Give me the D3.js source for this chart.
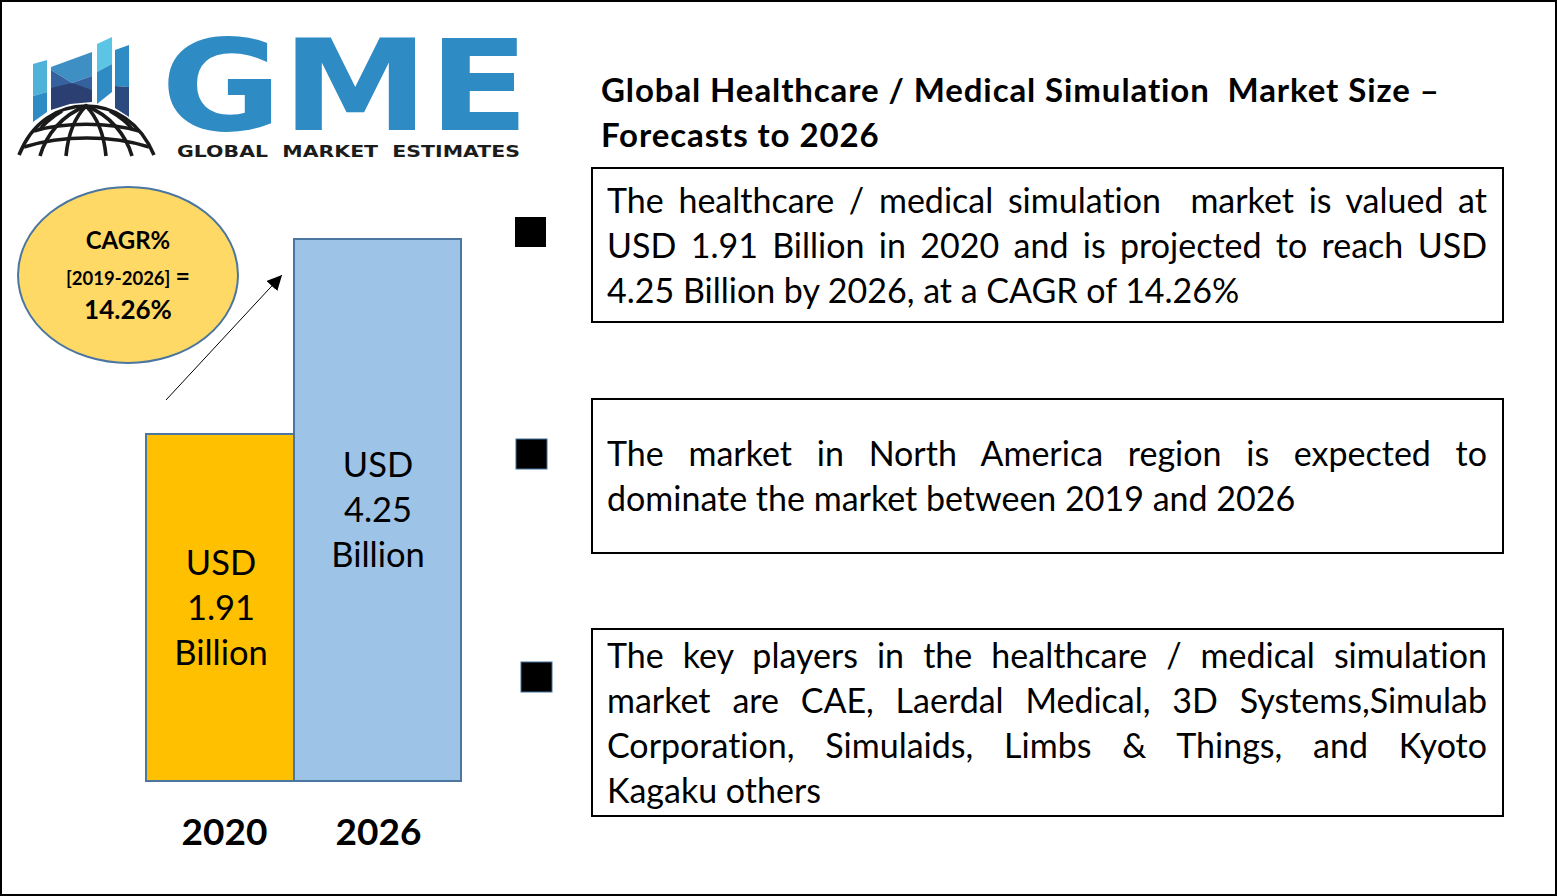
<!DOCTYPE html>
<html><head><meta charset="utf-8">
<script src="https://cdn.jsdelivr.net/npm/d3@7/dist/d3.min.js"></script>
<style>html,body{margin:0;padding:0;background:#fff}svg{display:block}text{font-family:Lato,"Open Sans",sans-serif;font-variant-ligatures:none}</style>
</head><body><div id="chart"></div>
<script>
const years = ["2020", "2026"];
const marketValues = [1.91, 4.25];
const barLabels = [["USD","1.91","Billion"],["USD","4.25","Billion"]];
const barColors = ["#FFC000", "#9DC3E6"];
const cagrLines = ["CAGR%", "[2019-2026]", "=", "14.26%"];
const titleLines = ["Global Healthcare / Medical Simulation  Market Size –", "Forecasts to 2026"];
const box1 = ["The healthcare / medical simulation  market is valued at","USD 1.91 Billion in 2020 and is projected to reach USD","4.25 Billion by 2026, at a CAGR of 14.26%"];
const box2 = ["The market in North America region is expected to","dominate the market between 2019 and 2026"];
const box3 = ["The key players in the healthcare / medical simulation","market are CAE, Laerdal Medical, 3D Systems,Simulab","Corporation, Simulaids, Limbs & Things, and Kyoto","Kagaku others"];

const W=1557,H=896;
const svg=d3.select("#chart").append("svg").attr("width",W).attr("height",H);
svg.append("rect").attr("x",1).attr("y",1).attr("width",W-2).attr("height",H-2).attr("fill","#fff").attr("stroke","#000").attr("stroke-width",2);

// Logo
const logo=svg.append("g");
const blue="#2E8BC4";
[["M33,64 L47,60 L47,92 L33,96Z","#4FB3D9"],["M33,96 L47,92 L47,112 L33,122Z","#2E8BC4"],
 ["M51,67 L92,52 L92,76 L72,83 L51,70Z","#3E8FC4"],["M51,70 L72,83 L92,76 L92,90 L51,100Z","#35619F"],["M51,88 L72,83 L92,90 L92,102 L70,104 L51,110Z","#2B3F72"],
 ["M97,44 L112,37 L112,64 L97,72Z","#5CC4E4"],["M97,72 L112,64 L112,92 L97,104Z","#2E8BC4"],
 ["M115,50 L129,45 L129,87 L115,86Z","#2E8BC4"],["M115,86 L129,87 L129,117 L115,108Z","#2B4A7E"]]
 .forEach(([d,c])=>logo.append("path").attr("d",d).attr("fill",c));
const globe=logo.append("g").attr("fill","none").attr("stroke","#1a1a1a").attr("stroke-width",3.6);
globe.append("path").attr("d","M19,155 C32,122 58,106 86,106 C114,106 140,122 154,155");
globe.append("path").attr("d","M34,131 C64,122 108,122 139,131");
globe.append("path").attr("d","M24,147 C62,135 112,135 149,147");
globe.append("path").attr("d","M40,156 C46,135 62,115 86,106 C110,115 126,135 132,156");
globe.append("path").attr("d","M66,156 C68,135 74,118 86,106 C98,118 104,135 106,156");
globe.append("path").attr("d","M62,111 C50,118 42,126 40,130 M110,111 C122,118 130,126 133,130");

logo.append("text").text("GME").attr("x",0).attr("y",0)
 .attr("transform","translate(161,130) scale(1.16,1)")
 .style("font-family","'DejaVu Sans'").attr("font-weight",700).attr("font-size",127).attr("fill",blue);
logo.append("text").text("GLOBAL  MARKET  ESTIMATES").attr("x",177).attr("y",157)
 .style("font-family","'DejaVu Sans'").style("white-space","pre").attr("font-weight",700).attr("font-size",15).attr("fill","#1c1c1c")
 .attr("textLength",343).attr("lengthAdjust","spacingAndGlyphs");

// Title
svg.append("g").selectAll("text").data(titleLines).join("text")
 .attr("x",601).attr("y",(d,i)=>102+i*45).attr("font-size",33).attr("font-weight",700).attr("fill","#000")
 .style("white-space","pre").style("letter-spacing","0.9px").text(d=>d);

// Bars: the two bars in the reference have different widths, so each year has its own left edge, width and centre.
const xLeft=d3.scaleOrdinal().domain(years).range([146,294]);
const xWidth=d3.scaleOrdinal().domain(years).range([148,167]);
const xCentre=d3.scaleOrdinal().domain(years).range([221,378]);
const xTick=d3.scaleOrdinal().domain(years).range([224,378]);
// The reference bars are not drawn in proportion to their values, so this scale has a knot at each value.
const y=d3.scaleLinear().domain([0,marketValues[0],marketValues[1]]).range([781,434,239]);
const rows=years.map((yr,i)=>({yr,v:marketValues[i],c:barColors[i],lab:barLabels[i]}));
svg.append("g").selectAll("rect").data(rows).join("rect")
 .attr("x",d=>xLeft(d.yr)).attr("y",d=>y(d.v)).attr("width",d=>xWidth(d.yr)).attr("height",d=>y(0)-y(d.v))
 .attr("fill",d=>d.c).attr("stroke","#4A76A0").attr("stroke-width",2);
const labelG=svg.append("g");
rows.forEach((d,i)=>{
  d.lab.forEach((t,j)=>labelG.append("text").attr("x",xCentre(d.yr)).attr("y",(i===0?575:477)+j*45).attr("text-anchor","middle").attr("font-size",34.5).attr("fill","#000").text(t));
});
const ax=svg.append("g").attr("transform","translate(0,845)").call(d3.axisBottom(xTick).tickSize(0).tickPadding(0));
ax.select(".domain").remove();
ax.selectAll("text").attr("font-size",37).attr("font-weight",700).attr("fill","#000").style("font-family","Lato").attr("dy",0);

// Arrow
svg.append("defs").append("marker").attr("id","ah").attr("viewBox","0 0 10 10").attr("refX",10).attr("refY",5).attr("markerWidth",15).attr("markerHeight",15).attr("markerUnits","userSpaceOnUse").attr("orient","auto")
 .append("path").attr("d","M0,0L10,5L0,10Z").attr("fill","#000");
svg.append("line").attr("x1",166).attr("y1",400).attr("x2",282).attr("y2",275).attr("stroke","#000").attr("stroke-width",1).attr("marker-end","url(#ah)");

// CAGR ellipse
svg.append("ellipse").attr("cx",128).attr("cy",275).attr("rx",110).attr("ry",88).attr("fill","#FFD966").attr("stroke","#4A76A0").attr("stroke-width",2);
svg.append("text").attr("x",128).attr("y",249).attr("text-anchor","middle").attr("font-weight",700).attr("font-size",24).text(cagrLines[0]);
const mid=svg.append("text").attr("x",128).attr("y",285).attr("text-anchor","middle").attr("font-weight",700).attr("font-size",18.5);
mid.append("tspan").text(cagrLines[1]);
mid.append("tspan").attr("font-size",25).attr("dx",5).text(cagrLines[2]);
svg.append("text").attr("x",128).attr("y",319).attr("text-anchor","middle").attr("font-weight",700).attr("font-size",26).text(cagrLines[3]);

// Bullets and text boxes
const boxes=[{x:592,y:168,w:911,h:154,lines:box1,first:213,bul:[515,217]},
             {x:592,y:399,w:911,h:154,lines:box2,first:466,bul:[516,439]},
             {x:592,y:629,w:911,h:187,lines:box3,first:668,bul:[521,662]}];
boxes.forEach(b=>{
  svg.append("rect").attr("x",b.x).attr("y",b.y).attr("width",b.w).attr("height",b.h).attr("fill","#fff").attr("stroke","#000").attr("stroke-width",2);
  svg.append("rect").attr("x",b.bul[0]).attr("y",b.bul[1]).attr("width",31).attr("height",30).attr("fill","#000").attr("stroke",b===boxes[0]?"none":"#41719C");
  b.lines.forEach((t,i)=>{
    const el=svg.append("text").attr("x",607).attr("y",b.first+i*45).attr("font-size",34).attr("fill","#000").style("white-space","pre").text(t);
    if(i<b.lines.length-1){
      const gaps=t.split(" ").length-1;
      const len=el.node().getComputedTextLength();
      el.style("word-spacing",((1487-607-len)/gaps)+"px");
    }
  });
});
</script></body></html>
